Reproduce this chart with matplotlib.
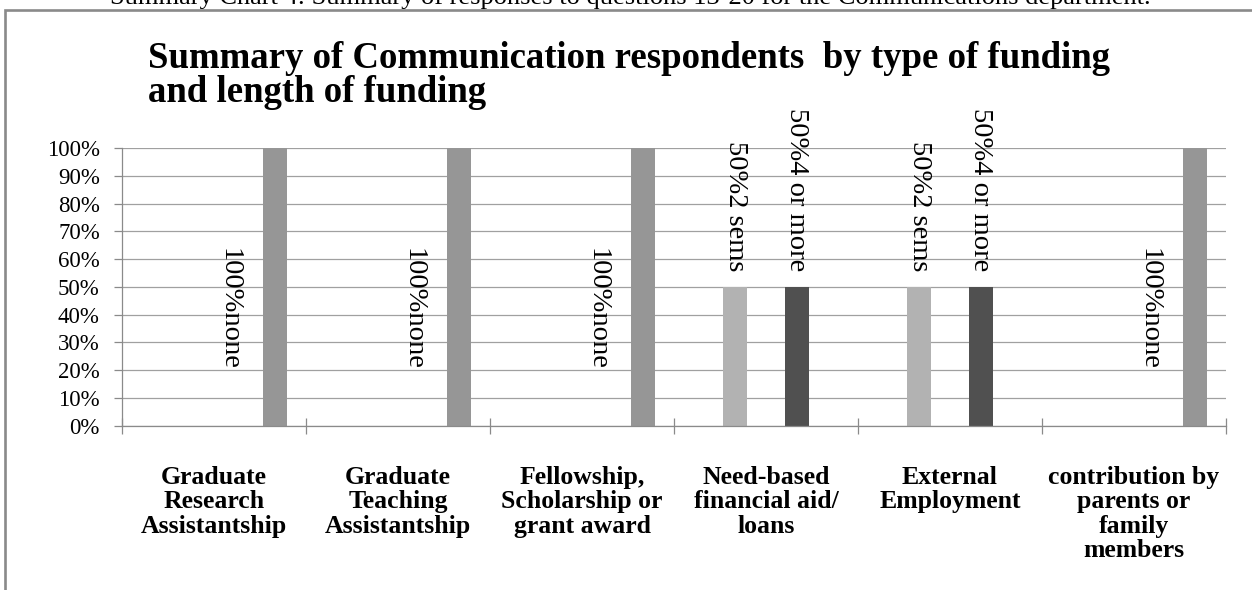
import matplotlib.pyplot as plt
from matplotlib.patches import Rectangle
from matplotlib.ticker import PercentFormatter, FixedLocator

plt.rcParams['font.family'] = ['Liberation Serif', 'DejaVu Serif']

# funding types on the x axis
categories = ['Graduate\nResearch\nAssistantship',
              'Graduate\nTeaching\nAssistantship',
              'Fellowship,\nScholarship or\ngrant award',
              'Need-based\nfinancial aid/\nloans',
              'External\nEmployment',
              'contribution by\nparents or\nfamily\nmembers']

# share of respondents (%) per length of funding
series_names = ['1 sem', '2 sems', '3 sems', '4 or more', 'none']
sem1 = [0, 0, 0, 0, 0, 0]
sems2 = [0, 0, 0, 50, 50, 0]
sems3 = [0, 0, 0, 0, 0, 0]
more4 = [0, 0, 0, 50, 50, 0]
none = [100, 100, 100, 0, 0, 100]
series_values = [sem1, sems2, sems3, more4, none]
series_colors = ['#d0d0d0', '#b2b2b2', '#777777', '#505050', '#969696']

W, H = 1252, 590
fig = plt.figure(figsize=(W / 100, H / 100), dpi=100)

# chart frame (runs off the right and bottom edges of the page)
fig.patches.append(Rectangle((5 / W, -0.05), 1.1, (H - 9.5) / H + 0.05,
                             transform=fig.transFigure, fill=False,
                             edgecolor='#8a8a8a', linewidth=1.9))

# caption line of the document, mostly hidden above the frame
fig.text(630 / W, (H - 4) / H,
         'Summary Chart 4: Summary of responses to questions 13-20 for the '
         'Communications department.',
         ha='center', va='baseline', fontsize=19)

fig.text(148 / W, (H - 41) / H,
         'Summary of Communication respondents  by type of funding\n'
         'and length of funding',
         ha='left', va='top', fontsize=26.5, fontweight='bold',
         linespacing=0.96)

ax = fig.add_axes([122 / W, 164.4 / H, 1104 / W, 277.6 / H])

n = len(series_names)
width = 0.13
for k, (name, vals, col) in enumerate(zip(series_names, series_values, series_colors)):
    xs = [i + (k + 1) / (n + 1) for i in range(len(categories))]
    ax.bar(xs, vals, width=width, color=col, zorder=2)
    for x, v in zip(xs, vals):
        if v <= 0:
            continue
        label = f'{v}%{name}'
        if v >= 100:
            # no room above a full bar: put the label beside it
            ax.text(x - 0.25, 42, label, rotation=270, ha='center',
                    va='center', fontsize=20.5)
        else:
            ax.annotate(label, (x, v), xytext=(0, 11), textcoords='offset points',
                        rotation=270, ha='center', va='bottom', fontsize=20.5,
                        annotation_clip=False)

ax.set_xlim(0, len(categories))
ax.set_ylim(0, 100)
ax.set_yticks(range(0, 101, 10))
ax.yaxis.set_major_formatter(PercentFormatter(100, decimals=0))
ax.grid(axis='y', color='#a0a0a0', linewidth=0.9, zorder=0)
ax.set_axisbelow(True)

ax.xaxis.set_major_locator(FixedLocator(range(len(categories) + 1)))
ax.xaxis.set_minor_locator(FixedLocator([i + 0.5 for i in range(len(categories))]))
ax.set_xticklabels([''] * (len(categories) + 1))
ax.set_xticklabels(categories, minor=True, fontweight='bold', fontsize=18.5,
                   linespacing=1.08)
ax.tick_params(axis='x', which='major', direction='inout', length=11.5,
               color='#8a8a8a', width=0.9)
ax.tick_params(axis='x', which='minor', length=0, pad=29)
ax.tick_params(axis='y', direction='out', length=6, color='#8a8a8a', width=0.9,
               labelsize=16.5, pad=10)

for side in ('top', 'right'):
    ax.spines[side].set_visible(False)
for side in ('left', 'bottom'):
    ax.spines[side].set_color('#8a8a8a')
    ax.spines[side].set_linewidth(0.9)

fig.savefig('out.png', dpi=100)
